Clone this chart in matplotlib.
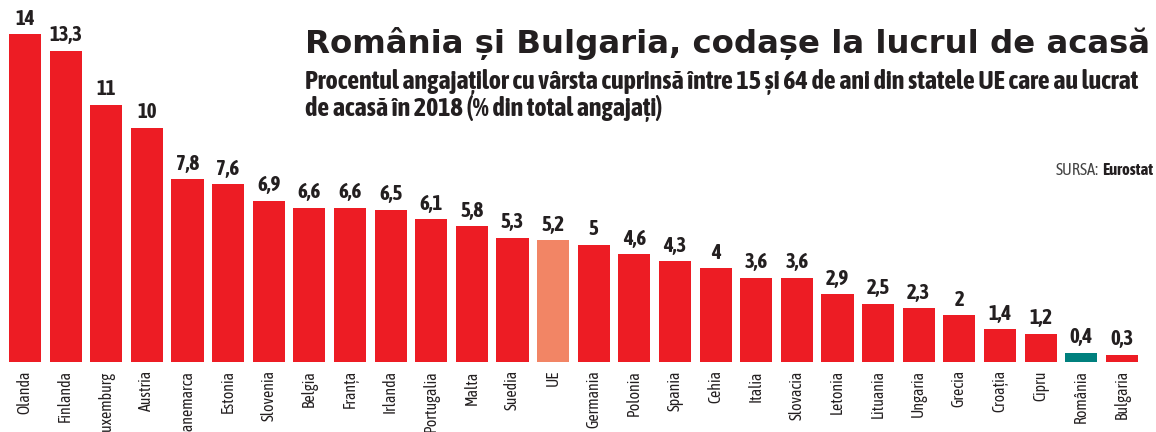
import matplotlib.pyplot as plt

# data
tari = ["Olanda", "Finlanda", "Luxemburg", "Austria", "Danemarca", "Estonia",
        "Slovenia", "Belgia", "Franța", "Irlanda", "Portugalia", "Malta",
        "Suedia", "UE", "Germania", "Polonia", "Spania", "Cehia", "Italia",
        "Slovacia", "Letonia", "Lituania", "Ungaria", "Grecia", "Croația",
        "Cipru", "România", "Bulgaria"]
procente = [14, 13.3, 11, 10, 7.8, 7.6, 6.9, 6.6, 6.6, 6.5, 6.1, 5.8, 5.3,
            5.2, 5, 4.6, 4.3, 4, 3.6, 3.6, 2.9, 2.5, 2.3, 2, 1.4, 1.2, 0.4, 0.3]

culori = []
for t in tari:
    if t == "UE":
        culori.append("#F28565")
    elif t == "România":
        culori.append("#00807E")
    else:
        culori.append("#ED1C24")

ingust = ["Asap Condensed", "DejaVu Sans"]
TEXT = "#231F20"

fig = plt.figure(figsize=(11.56, 4.32), dpi=100)
ax = fig.add_axes([0, 0.162, 1, 0.838])

x = range(len(tari))
ax.bar(x, procente, width=0.79, color=culori)
for i, v in enumerate(procente):
    eticheta = f"{v:g}".replace(".", ",")
    ax.annotate(eticheta, (i, v), xytext=(0, 4), textcoords="offset points",
                ha="center", va="bottom", fontsize=15, fontweight="bold",
                color=TEXT, family=ingust)

ax.set_xlim(-0.615, 27.84)
ax.set_ylim(0, 15.47)
ax.set_xticks(list(x))
ax.set_xticklabels(tari, rotation=90, fontsize=11.4, color=TEXT, family=ingust)
ax.tick_params(axis="x", length=0, pad=6)
ax.set_yticks([])
for s in ax.spines.values():
    s.set_visible(False)

fig.text(0.264, 0.877, "România și Bulgaria, codașe la lucrul de acasă",
         fontsize=23.3, fontweight="bold", color=TEXT, va="baseline",
         family="DejaVu Sans")
fig.text(0.264, 0.795,
         "Procentul angajaților cu vârsta cuprinsă între 15 și 64 de ani din statele UE care au lucrat",
         fontsize=18.8, fontweight="bold", color=TEXT, family=ingust, va="baseline")
fig.text(0.264, 0.732, "de acasă în 2018 (% din total angajați)",
         fontsize=18.8, fontweight="bold", color=TEXT, family=ingust, va="baseline")

# sursa, aliniata la dreapta
sursa = fig.text(0.998, 0.595, "Eurostat", fontsize=12, fontweight="bold",
                 color=TEXT, family=ingust, ha="right", va="baseline")
r = fig.canvas.get_renderer()
stanga = sursa.get_window_extent(r).x0 / fig.bbox.width
fig.text(stanga - 0.003, 0.595, "SURSA:", fontsize=12, color="#444444",
         family=ingust, ha="right", va="baseline")

fig.savefig("out.png", dpi=100)
